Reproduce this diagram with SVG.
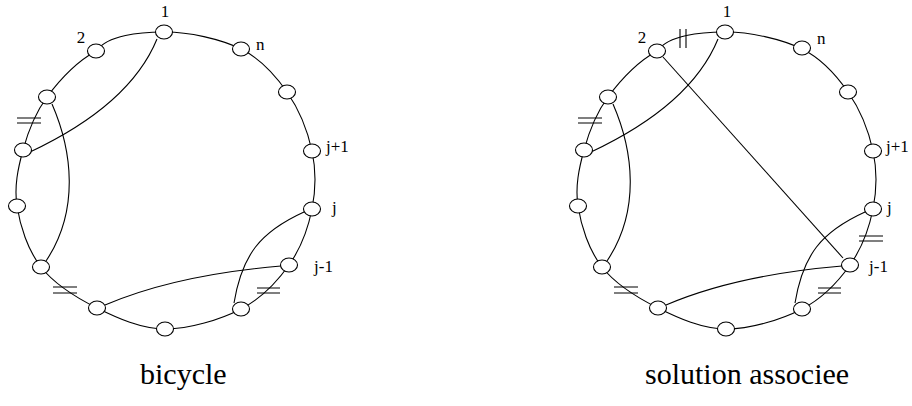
<svg xmlns="http://www.w3.org/2000/svg" width="912" height="406" viewBox="0 0 912 406">
<style>
.ring{fill:none;stroke:#000;stroke-width:1.1}
.ch{fill:none;stroke:#000;stroke-width:1.1}
.bar{stroke:#000;stroke-width:1.1}
.nd ellipse{fill:#fff;stroke:#000;stroke-width:1.1}
.lb{font-family:"Liberation Serif","Times New Roman",serif;font-size:17px;fill:#000}
.cap{font-family:"Liberation Serif","Times New Roman",serif;font-size:30px;fill:#000}
</style>
<defs>
<path id="ringpath" d="M164,32 C188.2,31.7 220.5,39 241,49 C261.5,59 275.2,75 287,92 C298.8,109 307.8,131.5 312,151 C316.2,170.5 315.8,190 312,209 C308.2,228 300.8,248.3 289,265 C277.2,281.7 261.7,298.3 241,309 C220.3,319.7 189,329.2 165,329 C141,328.8 117.7,318.3 97,308 C76.3,297.7 54.3,284 41,267 C27.7,250 20,225.5 17,206 C14,186.5 18,168.2 23,150 C28,131.8 34.8,113.5 47,97 C59.2,80.5 76.5,61.8 96,51 C108.2,34.5 139.8,32.3 164,32 Z"/>
</defs>
<g id="connectors">
<use href="#ringpath" class="ring"/>
<use href="#ringpath" class="ring" transform="translate(561,0)"/>
<path class="ch" d="M157,39 Q130,105 30,152"/>
<path class="ch" d="M52,104 C72,150 80,210 46,261"/>
<path class="ch" d="M105,305 Q175,275 281,266"/>
<path class="ch" d="M234,303 C242,255 260,232 304,212"/>
<path class="ch" d="M718,39 Q691,105 591,152"/>
<path class="ch" d="M613,104 C633,150 641,210 607,261"/>
<path class="ch" d="M666,305 Q736,275 842,266"/>
<path class="ch" d="M795,303 C803,255 821,232 865,212"/>
<path class="ch" d="M663,57 L843,258"/>
<g id="bars">
<path class="bar" d="M17,118 H41 M17,123 H41"/>
<path class="bar" d="M53,287 H77 M53,293 H77"/>
<path class="bar" d="M257,288 H280 M257,293 H280"/>
<path class="bar" d="M578,118 H602 M578,123 H602"/>
<path class="bar" d="M614,287 H638 M614,293 H638"/>
<path class="bar" d="M818,288 H841 M818,293 H841"/>
<path class="bar" d="M680,29 V48 M686,29 V48"/>
<path class="bar" d="M859,236 H883 M859,241 H883"/>
</g>
</g>
<g id="left">
<g id="L1" class="nd"><ellipse cx="164" cy="32" rx="8.5" ry="7"/><text class="lb" x="165" y="17" text-anchor="middle">1</text></g>
<g id="Ln" class="nd"><ellipse cx="241" cy="49" rx="8.5" ry="7"/><text class="lb" x="256" y="50">n</text></g>
<g id="La" class="nd"><ellipse cx="287" cy="92" rx="8.5" ry="7"/></g>
<g id="Ljp1" class="nd"><ellipse cx="312" cy="151" rx="8.5" ry="7"/><text class="lb" x="326" y="152">j+1</text></g>
<g id="Lj" class="nd"><ellipse cx="312" cy="209" rx="8.5" ry="7"/><text class="lb" x="332" y="213">j</text></g>
<g id="Ljm1" class="nd"><ellipse cx="289" cy="265" rx="8.5" ry="7"/><text class="lb" x="314" y="272">j-1</text></g>
<g id="Lb" class="nd"><ellipse cx="241" cy="309" rx="8.5" ry="7"/></g>
<g id="Lc" class="nd"><ellipse cx="165" cy="329" rx="8.5" ry="7"/></g>
<g id="Ld" class="nd"><ellipse cx="97" cy="308" rx="8.5" ry="7"/></g>
<g id="Le" class="nd"><ellipse cx="41" cy="267" rx="8.5" ry="7"/></g>
<g id="Lf" class="nd"><ellipse cx="17" cy="206" rx="8.5" ry="7"/></g>
<g id="Lg" class="nd"><ellipse cx="23" cy="150" rx="8.5" ry="7"/></g>
<g id="Lh" class="nd"><ellipse cx="47" cy="97" rx="8.5" ry="7"/></g>
<g id="L2" class="nd"><ellipse cx="96" cy="51" rx="8.5" ry="7"/><text class="lb" x="81" y="43" text-anchor="middle">2</text></g>
<text id="cap-left" class="cap" x="140" y="384">bicycle</text>
</g>
<g id="right">
<g id="R1" class="nd"><ellipse cx="725" cy="32" rx="8.5" ry="7"/><text class="lb" x="727" y="17" text-anchor="middle">1</text></g>
<g id="Rn" class="nd"><ellipse cx="802" cy="48" rx="8.5" ry="7"/><text class="lb" x="817" y="44">n</text></g>
<g id="Ra" class="nd"><ellipse cx="848" cy="92" rx="8.5" ry="7"/></g>
<g id="Rjp1" class="nd"><ellipse cx="873" cy="151" rx="8.5" ry="7"/><text class="lb" x="886" y="152">j+1</text></g>
<g id="Rj" class="nd"><ellipse cx="873" cy="209" rx="8.5" ry="7"/><text class="lb" x="887" y="213">j</text></g>
<g id="Rjm1" class="nd"><ellipse cx="850" cy="265" rx="8.5" ry="7"/><text class="lb" x="869" y="272">j-1</text></g>
<g id="Rb" class="nd"><ellipse cx="802" cy="309" rx="8.5" ry="7"/></g>
<g id="Rc" class="nd"><ellipse cx="726" cy="329" rx="8.5" ry="7"/></g>
<g id="Rd" class="nd"><ellipse cx="658" cy="308" rx="8.5" ry="7"/></g>
<g id="Re" class="nd"><ellipse cx="602" cy="267" rx="8.5" ry="7"/></g>
<g id="Rf" class="nd"><ellipse cx="578" cy="206" rx="8.5" ry="7"/></g>
<g id="Rg" class="nd"><ellipse cx="584" cy="150" rx="8.5" ry="7"/></g>
<g id="Rh" class="nd"><ellipse cx="608" cy="97" rx="8.5" ry="7"/></g>
<g id="R2" class="nd"><ellipse cx="657" cy="51" rx="8.5" ry="7"/><text class="lb" x="642" y="43" text-anchor="middle">2</text></g>
<text id="cap-right" class="cap" x="645" y="384">solution associee</text>
</g>
</svg>
